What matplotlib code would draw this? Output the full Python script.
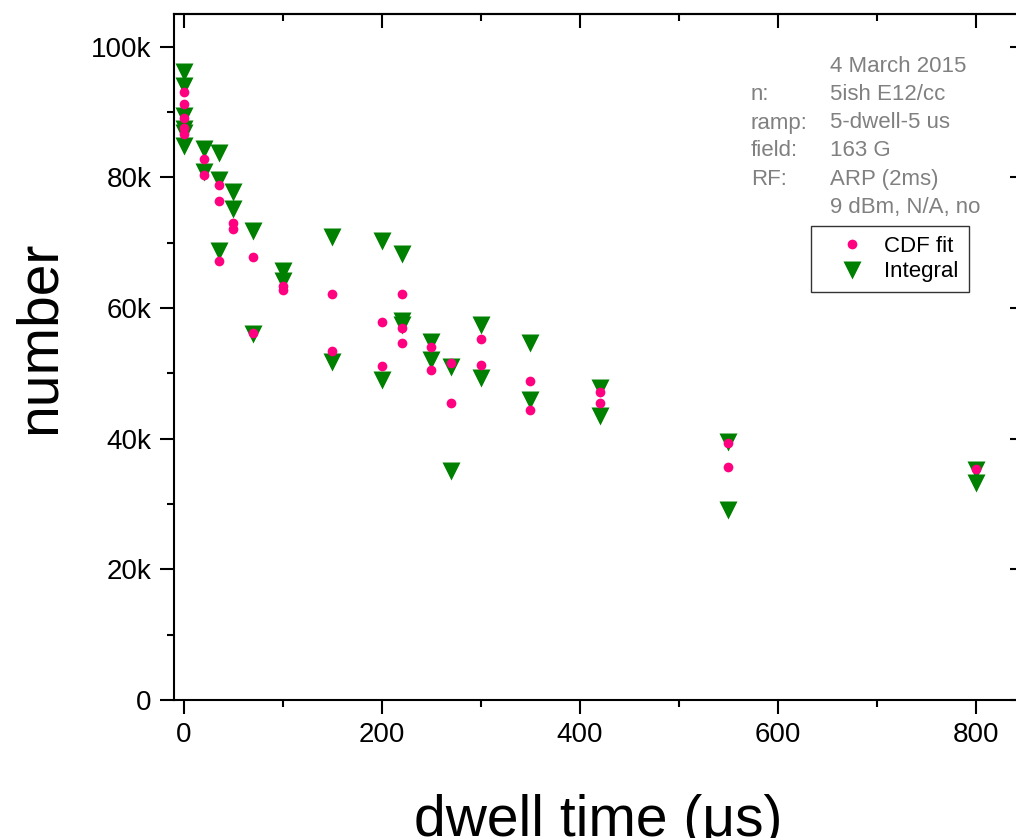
import matplotlib
matplotlib.use("Agg")
import matplotlib.pyplot as plt
from matplotlib.ticker import MultipleLocator, FuncFormatter

plt.rcParams["font.family"] = ["Liberation Sans", "DejaVu Sans"]

# dwell time (us) and atom number
cdf_x = [0, 0, 0, 0, 0,
         20, 20, 35, 35, 35, 50, 50, 70, 70,
         100, 100, 150, 150, 200, 200, 220, 220, 220,
         250, 250, 270, 270, 300, 300, 350, 350,
         420, 420, 550, 550, 800]
cdf_y = [93.0, 91.2, 89.1, 87.5, 86.7,
         82.8, 80.3, 78.9, 76.4, 67.2, 73.0, 72.1, 67.8, 56.2,
         63.4, 62.8, 62.2, 53.4, 57.9, 51.1, 62.2, 57.0, 54.7,
         54.1, 50.5, 51.6, 45.5, 55.3, 51.3, 48.9, 44.4,
         47.2, 45.5, 39.4, 35.7, 35.4]

int_x = [0, 0, 0, 0, 0, 0,
         20, 20, 35, 35, 35, 50, 50, 70, 70,
         100, 100, 150, 150, 200, 200, 220, 220, 220,
         250, 250, 270, 270, 300, 300, 350, 350,
         420, 420, 550, 550, 800, 800]
int_y = [96.1, 94.0, 89.4, 87.4, 86.8, 84.8,
         84.4, 80.8, 83.8, 79.6, 68.8, 77.7, 75.1, 71.8, 56.0,
         65.7, 64.2, 70.9, 51.8, 70.3, 49.0, 68.3, 58.0, 57.4,
         54.8, 52.1, 51.0, 35.1, 57.4, 49.3, 54.7, 45.9,
         47.8, 43.5, 39.5, 29.1, 35.2, 33.2]

info_keys = ["", "n:", "ramp:", "field:", "RF:", ""]
info_vals = ["4 March 2015", "5ish E12/cc", "5-dwell-5 us", "163 G",
             "ARP (2ms)", "9 dBm, N/A, no"]

W, H = 1016, 838
fig = plt.figure(figsize=(W / 100, H / 100), dpi=100)
ax = fig.add_axes([174 / W, 1 - 700 / H, (1024 - 174) / W, (700 - 14) / H])

ax.plot(cdf_x, [v * 1000 for v in cdf_y], "o", color="#ff0080", ms=7,
        mec="none", label="CDF fit", zorder=3)
ax.plot(int_x, [v * 1000 for v in int_y], "v", color="#008000", ms=13,
        mec="none", label="Integral", zorder=2)

ax.set_xlim(-10.1, 848.5)
ax.set_ylim(0, 105000)
ax.xaxis.set_major_locator(MultipleLocator(200))
ax.xaxis.set_minor_locator(MultipleLocator(100))
ax.yaxis.set_major_locator(MultipleLocator(20000))
ax.yaxis.set_minor_locator(MultipleLocator(10000))
ax.yaxis.set_major_formatter(FuncFormatter(lambda v, p: "0" if v == 0 else f"{int(v / 1000)}k"))

for s in ax.spines.values():
    s.set_linewidth(1.5)
ax.tick_params(which="both", direction="out", width=1.5, labelsize=20, pad=6)
ax.tick_params(which="major", length=10)
ax.tick_params(which="minor", length=5)

# inward ticks on top and right
top = ax.secondary_xaxis("top")
right = ax.secondary_yaxis("right")
for sec in (top, right):
    sec.tick_params(which="both", direction="in", width=1.5, labelleft=False,
                    labelright=False, labeltop=False, labelbottom=False)
    sec.tick_params(which="major", length=10)
    sec.tick_params(which="minor", length=5)
top.xaxis.set_major_locator(MultipleLocator(200))
top.xaxis.set_minor_locator(MultipleLocator(100))
right.yaxis.set_major_locator(MultipleLocator(20000))
right.yaxis.set_minor_locator(MultipleLocator(10000))
top.spines["top"].set_linewidth(1.5)
right.spines["right"].set_linewidth(1.5)

fig.text(55 / W, 1 - 337 / H, "number", fontsize=41, rotation=90,
         rotation_mode="anchor", ha="center", va="baseline")
fig.text(598 / W, 1 - 836 / H, "dwell time (μs)", fontsize=41,
         ha="center", va="baseline")

for i, (k, v) in enumerate(zip(info_keys, info_vals)):
    y = 1 - (67 + 28 * i) / H
    fig.text(751 / W, y, k, fontsize=16, color="#808080", va="center")
    fig.text(830 / W, y, v, fontsize=16, color="#808080", va="center")

leg = ax.legend(loc="upper left", bbox_to_anchor=(811 / W, 1 - 226 / H),
                bbox_transform=fig.transFigure, fontsize=16, frameon=True,
                fancybox=False, edgecolor="black", borderpad=0.45,
                handlelength=2.8, handletextpad=0.05, labelspacing=0.2,
                borderaxespad=0)
leg.get_frame().set_linewidth(1.0)

fig.savefig("out.png", dpi=100)
